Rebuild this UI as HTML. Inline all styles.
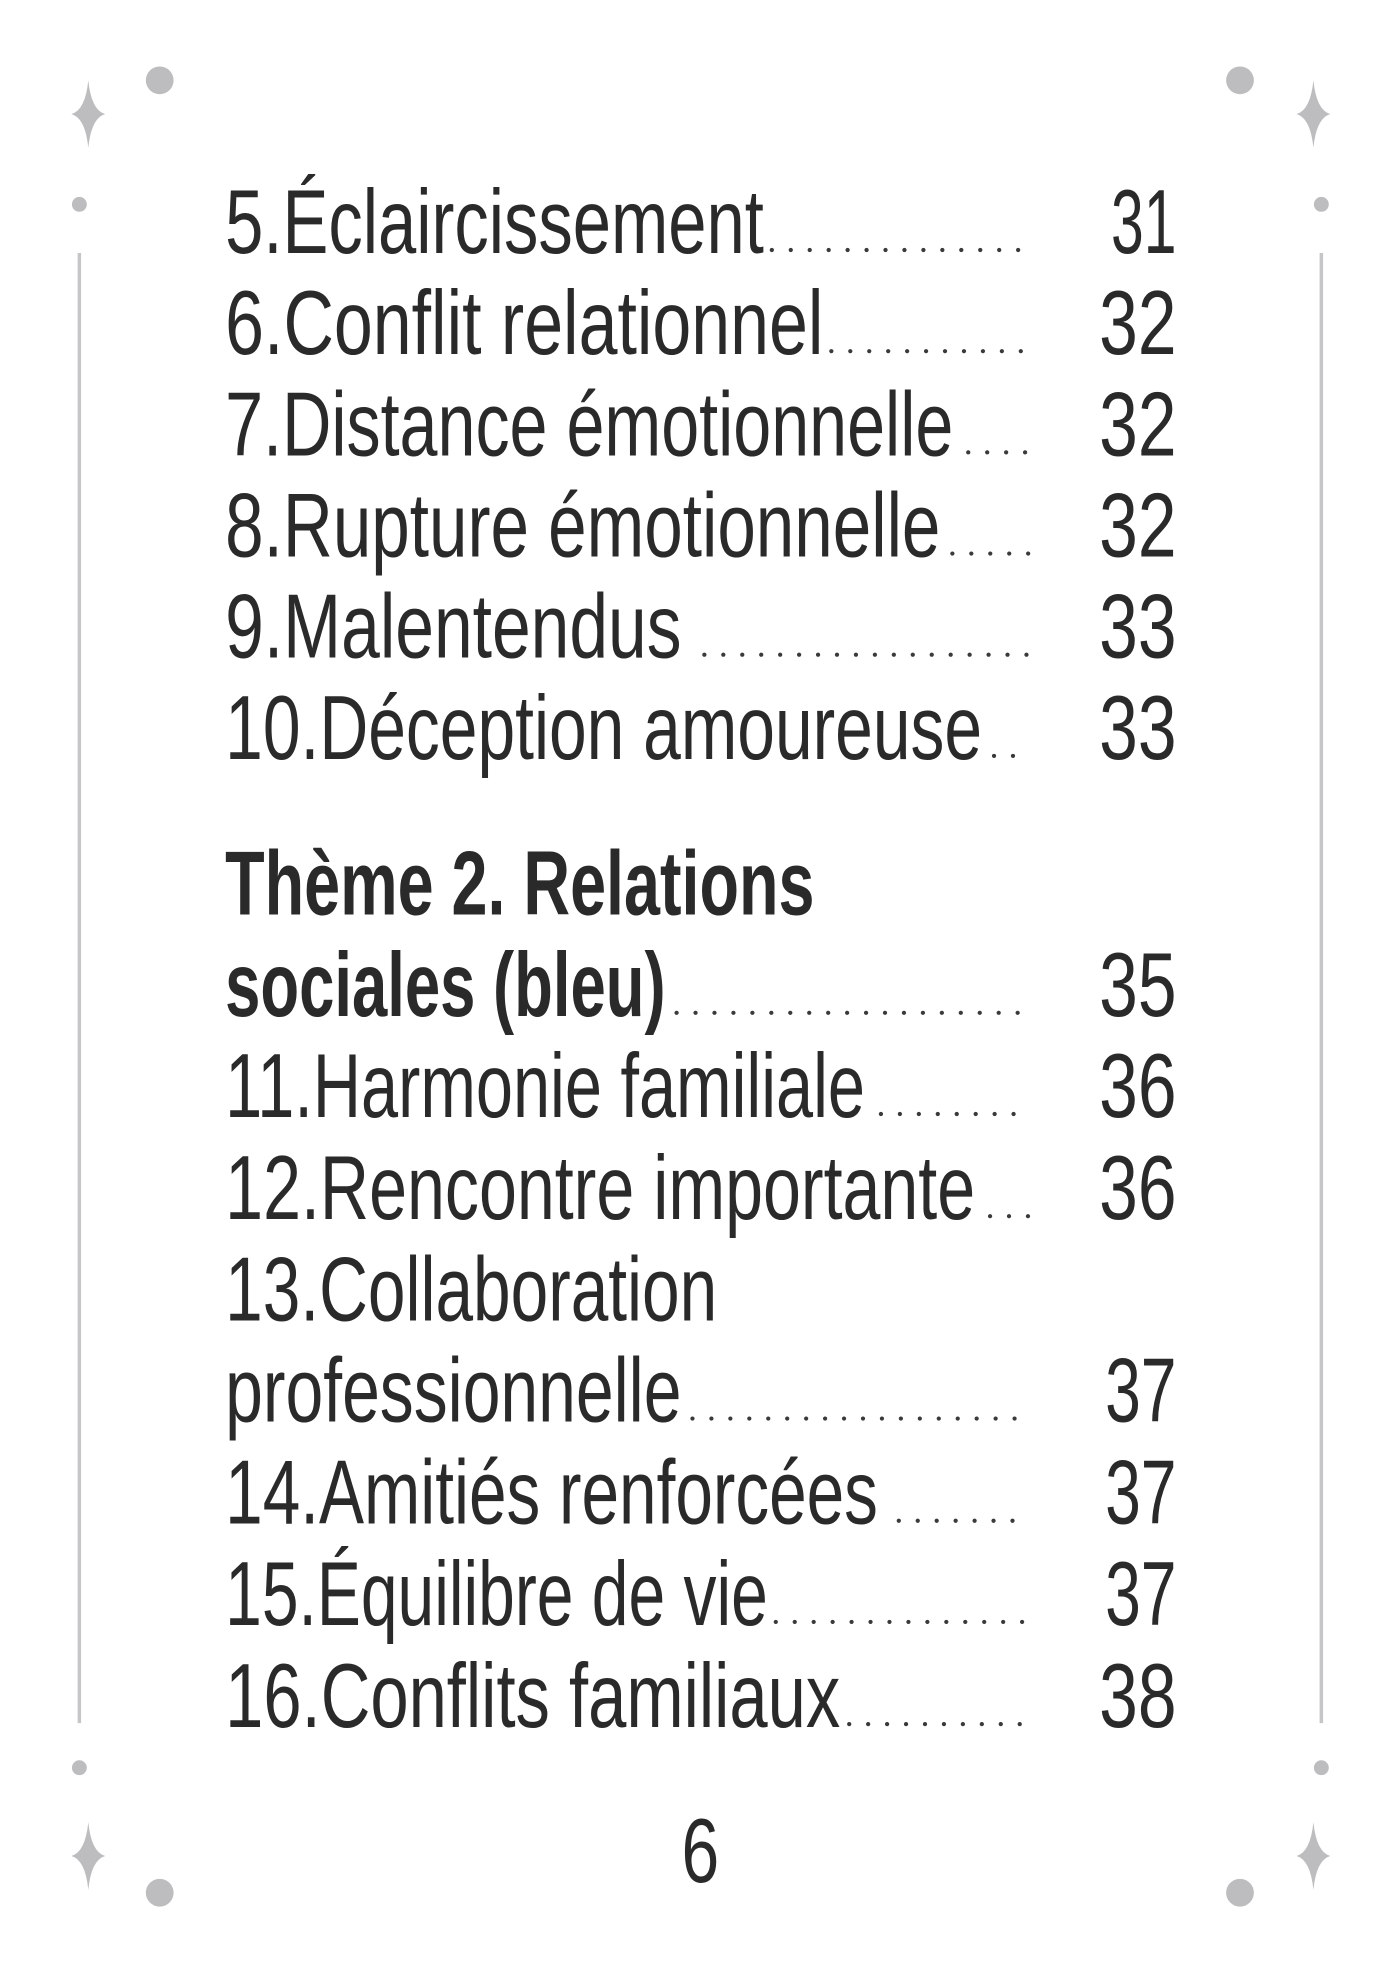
<!DOCTYPE html>
<html><head><meta charset="utf-8">
<style>
html,body{margin:0;padding:0;background:#fff;}
svg{display:block;}
text{font-family:"Liberation Sans","DejaVu Sans",sans-serif;fill:#2a2a2a;}
.t{font-size:92px;}
.b{font-size:92px;font-weight:bold;}
.lead{stroke:#3a3a3a;stroke-width:4.2;stroke-linecap:round;stroke-dasharray:0.1 19;}
.orn{fill:#bdbdbf;}
</style></head>
<body>
<svg width="1400" height="1978" viewBox="0 0 1400 1978">
<g transform="scale(0.992)">
  <g>
    <path class="orn" d="M89,81 Q92,111 106,115 Q92,119 89,149 Q86,119 72,115 Q86,111 89,81Z"/>
    <path class="orn" d="M1324,81 Q1327,111 1341,115 Q1327,119 1324,149 Q1321,119 1307,115 Q1321,111 1324,81Z"/>
    <path class="orn" d="M89,1837 Q92,1867 106,1871 Q92,1875 89,1905 Q86,1875 72,1871 Q86,1867 89,1837Z"/>
    <path class="orn" d="M1324,1837 Q1327,1867 1341,1871 Q1327,1875 1324,1905 Q1321,1875 1307,1871 Q1321,1867 1324,1837Z"/>
    <circle class="orn" cx="161" cy="81" r="14"/>
    <circle class="orn" cx="1250" cy="81" r="14"/>
    <circle class="orn" cx="161" cy="1908" r="14"/>
    <circle class="orn" cx="1250" cy="1908" r="14"/>
    <circle class="orn" cx="80" cy="206" r="7.5"/>
    <circle class="orn" cx="1332" cy="206" r="7.5"/>
    <circle class="orn" cx="80" cy="1782" r="7.5"/>
    <circle class="orn" cx="1332" cy="1782" r="7.5"/>
    <line x1="80" y1="255" x2="80" y2="1737" stroke="#c6c6c8" stroke-width="3.5"/>
    <line x1="1332" y1="255" x2="1332" y2="1737" stroke="#c6c6c8" stroke-width="3.5"/>
  </g>

  <g>
    <text class="t" x="227" y="255" textLength="543" lengthAdjust="spacingAndGlyphs">5.Éclaircissement</text>
    <line class="lead" x1="778" y1="252" x2="1037" y2="252"/>
    <text class="t" x="1186" y="255" text-anchor="end" textLength="66" lengthAdjust="spacingAndGlyphs">31</text>
  </g>
  <g>
    <text class="t" x="227" y="357" textLength="603" lengthAdjust="spacingAndGlyphs">6.Conflit relationnel</text>
    <line class="lead" x1="838" y1="354" x2="1037" y2="354"/>
    <text class="t" x="1186" y="357" text-anchor="end" textLength="78" lengthAdjust="spacingAndGlyphs">32</text>
  </g>
  <g>
    <text class="t" x="227" y="459" textLength="734" lengthAdjust="spacingAndGlyphs">7.Distance émotionnelle</text>
    <line class="lead" x1="976" y1="456" x2="1037" y2="456"/>
    <text class="t" x="1186" y="459" text-anchor="end" textLength="78" lengthAdjust="spacingAndGlyphs">32</text>
  </g>
  <g>
    <text class="t" x="227" y="561" textLength="721" lengthAdjust="spacingAndGlyphs">8.Rupture émotionnelle</text>
    <line class="lead" x1="960" y1="558" x2="1037" y2="558"/>
    <text class="t" x="1186" y="561" text-anchor="end" textLength="78" lengthAdjust="spacingAndGlyphs">32</text>
  </g>
  <g>
    <text class="t" x="227" y="663" textLength="460" lengthAdjust="spacingAndGlyphs">9.Malentendus</text>
    <line class="lead" x1="710" y1="660" x2="1037" y2="660"/>
    <text class="t" x="1186" y="663" text-anchor="end" textLength="78" lengthAdjust="spacingAndGlyphs">33</text>
  </g>
  <g>
    <text class="t" x="227" y="765" textLength="763" lengthAdjust="spacingAndGlyphs">10.Déception amoureuse</text>
    <line class="lead" x1="1002" y1="762" x2="1037" y2="762"/>
    <text class="t" x="1186" y="765" text-anchor="end" textLength="78" lengthAdjust="spacingAndGlyphs">33</text>
  </g>

  <g>
    <text class="b" x="227" y="922" textLength="594" lengthAdjust="spacingAndGlyphs">Thème 2. Relations</text>
    <text class="b" x="227" y="1024" textLength="444" lengthAdjust="spacingAndGlyphs">sociales (bleu)</text>
    <line class="lead" x1="682" y1="1021" x2="1037" y2="1021"/>
    <text class="t" x="1186" y="1024" text-anchor="end" textLength="78" lengthAdjust="spacingAndGlyphs">35</text>
  </g>

  <g>
    <text class="t" x="227" y="1126" textLength="645" lengthAdjust="spacingAndGlyphs">11.Harmonie familiale</text>
    <line class="lead" x1="888" y1="1123" x2="1037" y2="1123"/>
    <text class="t" x="1186" y="1126" text-anchor="end" textLength="78" lengthAdjust="spacingAndGlyphs">36</text>
  </g>
  <g>
    <text class="t" x="227" y="1229" textLength="756" lengthAdjust="spacingAndGlyphs">12.Rencontre importante</text>
    <line class="lead" x1="998" y1="1226" x2="1037" y2="1226"/>
    <text class="t" x="1186" y="1229" text-anchor="end" textLength="78" lengthAdjust="spacingAndGlyphs">36</text>
  </g>
  <g>
    <text class="t" x="227" y="1331" textLength="496" lengthAdjust="spacingAndGlyphs">13.Collaboration</text>
    <text class="t" x="227" y="1433" textLength="460" lengthAdjust="spacingAndGlyphs">professionnelle</text>
    <line class="lead" x1="698" y1="1430" x2="1037" y2="1430"/>
    <text class="t" x="1186" y="1433" text-anchor="end" textLength="72" lengthAdjust="spacingAndGlyphs">37</text>
  </g>
  <g>
    <text class="t" x="227" y="1536" textLength="658" lengthAdjust="spacingAndGlyphs">14.Amitiés renforcées</text>
    <line class="lead" x1="906" y1="1533" x2="1037" y2="1533"/>
    <text class="t" x="1186" y="1536" text-anchor="end" textLength="72" lengthAdjust="spacingAndGlyphs">37</text>
  </g>
  <g>
    <text class="t" x="227" y="1638" textLength="547" lengthAdjust="spacingAndGlyphs">15.Équilibre de vie</text>
    <line class="lead" x1="782" y1="1635" x2="1037" y2="1635"/>
    <text class="t" x="1186" y="1638" text-anchor="end" textLength="72" lengthAdjust="spacingAndGlyphs">37</text>
  </g>
  <g>
    <text class="t" x="227" y="1741" textLength="620" lengthAdjust="spacingAndGlyphs">16.Conflits familiaux</text>
    <line class="lead" x1="856" y1="1738" x2="1037" y2="1738"/>
    <text class="t" x="1186" y="1741" text-anchor="end" textLength="78" lengthAdjust="spacingAndGlyphs">38</text>
  </g>

  <text class="t" x="706" y="1897" text-anchor="middle" textLength="38" lengthAdjust="spacingAndGlyphs">6</text>
</g>
</svg>
</body></html>
